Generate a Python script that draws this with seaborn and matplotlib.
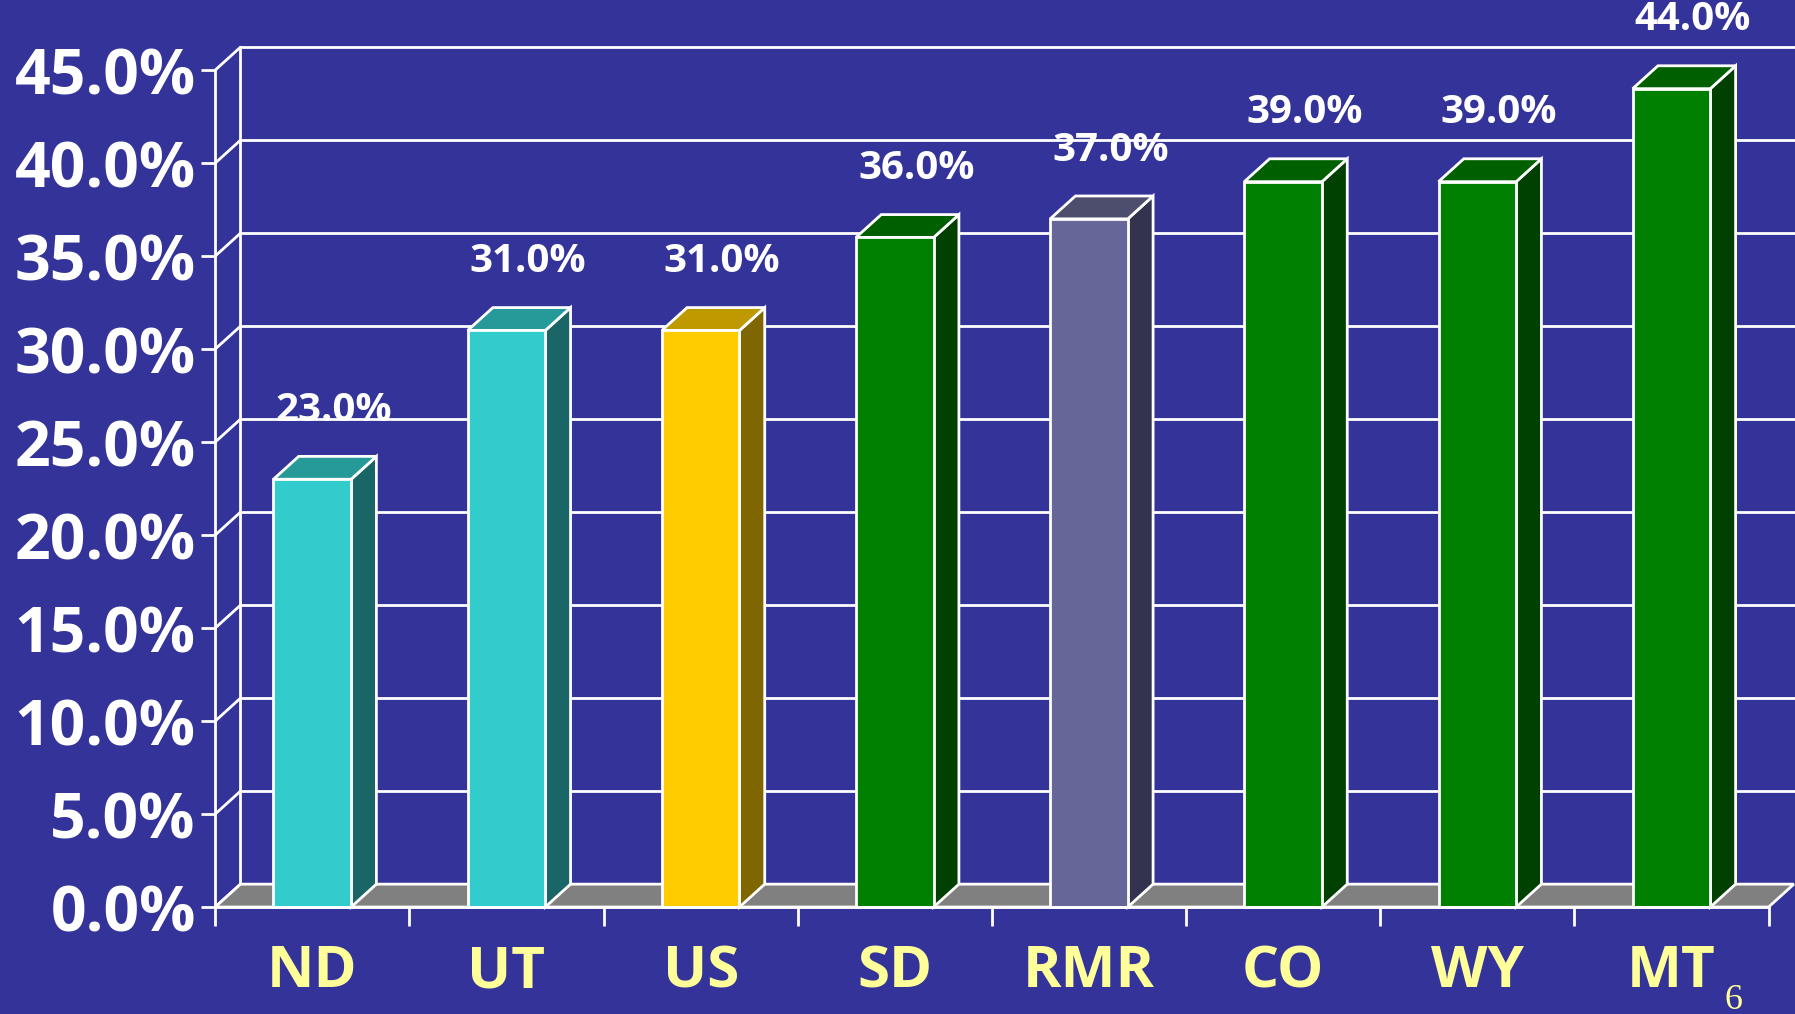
import matplotlib
matplotlib.use("Agg")
import matplotlib.pyplot as plt
from matplotlib.patches import Polygon
from matplotlib import font_manager
import seaborn as sns
import pandas as pd
import numpy as np

# ---- data ----
categories = ["ND", "UT", "US", "SD", "RMR", "CO", "WY", "MT"]
values = [23.0, 31.0, 31.0, 36.0, 37.0, 39.0, 39.0, 44.0]
front_colors = ["#33CCCC", "#33CCCC", "#FFCC00", "#008000", "#666699", "#008000", "#008000", "#008000"]
side_colors = ["#1A6666", "#1A6666", "#806600", "#004000", "#333350", "#004000", "#004000", "#004000"]
top_colors = ["#269999", "#269999", "#BF9900", "#006000", "#4D4D6E", "#006000", "#006000", "#006000"]
y_ticks = [0, 5, 10, 15, 20, 25, 30, 35, 40, 45]
y_tick_labels = ["0.0%", "5.0%", "10.0%", "15.0%", "20.0%", "25.0%", "30.0%", "35.0%", "40.0%", "45.0%"]
value_labels = ["23.0%", "31.0%", "31.0%", "36.0%", "37.0%", "39.0%", "39.0%", "44.0%"]
page_number = "6"

BG = "#333399"
GRID = "white"
FLOOR = "#808080"

sns.set_theme(style="white")
bold_fams = {f.name for f in font_manager.fontManager.ttflist
             if (f.weight if isinstance(f.weight, int) else 400) >= 600 or str(f.weight) == "bold"}
fam = [f for f in ["Noto Sans", "Open Sans", "Liberation Sans", "DejaVu Sans"] if f in bold_fams]
if "DejaVu Sans" not in fam:
    fam.append("DejaVu Sans")
plt.rcParams["font.family"] = fam
plt.rcParams["font.weight"] = "bold"

df = pd.DataFrame({"cat": categories, "val": values})

fig = plt.figure(figsize=(17.95, 10.14), dpi=100, facecolor=BG)
ax = fig.add_axes([0.1199, 0.1055, 0.8654, 0.8254])
ax.set_facecolor(BG)

DX = 0.13   # depth in category units
DY = 1.23   # depth in percent units
x0, x1 = -0.5, len(categories) - 0.5
ymax = 45

# back wall gridlines
for t in y_ticks[1:]:
    ax.plot([x0 + DX, x1 + DX + 0.05], [t + DY, t + DY], color=GRID, lw=2, clip_on=False, zorder=1)
# left wall diagonals
for t in y_ticks:
    ax.plot([x0, x0 + DX], [t, t + DY], color=GRID, lw=2, clip_on=False, zorder=1)
# back-left vertical
ax.plot([x0 + DX, x0 + DX], [DY, ymax + DY], color=GRID, lw=2, clip_on=False, zorder=1)
# floor
floor = Polygon([(x0, 0), (x1, 0), (x1 + DX, DY), (x0 + DX, DY)], closed=True,
                facecolor=FLOOR, edgecolor=GRID, lw=2, clip_on=False, zorder=1.5)
ax.add_patch(floor)

sns.barplot(data=df, x="cat", y="val", hue="cat", palette=front_colors, legend=False,
            width=0.4, edgecolor="white", linewidth=2, saturation=1, ax=ax, zorder=3)

bars = [pp for pp in ax.patches if pp is not floor]
for i, p in enumerate(bars):
    p.set_clip_on(False)
    bx, bw, bh = p.get_x(), p.get_width(), p.get_height()
    side = Polygon([(bx + bw, 0), (bx + bw + DX, DY), (bx + bw + DX, bh + DY), (bx + bw, bh)],
                   closed=True, facecolor=side_colors[i], edgecolor="white", lw=2, zorder=2.5,
                   clip_on=False)
    top = Polygon([(bx, bh), (bx + DX, bh + DY), (bx + bw + DX, bh + DY), (bx + bw, bh)],
                  closed=True, facecolor=top_colors[i], edgecolor="white", lw=2, zorder=2.5,
                  clip_on=False)
    ax.add_patch(side)
    ax.add_patch(top)
    ax.text(bx + bw / 2 + DX * 0.85, bh + 3.7, value_labels[i], ha="center", va="center",
            color="white", fontsize=29, fontweight="bold", zorder=5, clip_on=False)

# front axes lines
ax.plot([x0, x0], [0, ymax], color=GRID, lw=2, clip_on=False, zorder=4)
ax.plot([x0, x1], [0, 0], color=GRID, lw=2, clip_on=False, zorder=4)

ax.set_xlim(x0, x1)
ax.set_ylim(0, ymax)
for s in ax.spines.values():
    s.set_visible(False)

ax.set_yticks(y_ticks)
ax.set_yticklabels(y_tick_labels, fontweight="bold")
ax.tick_params(axis="y", which="both", left=True, length=10, width=2, color="white",
               labelcolor="white", labelsize=45, pad=4)

ax.set_xticks(np.arange(len(categories)))
ax.set_xticklabels(categories, fontweight="bold")
ax.tick_params(axis="x", which="major", bottom=False, labelcolor="#FFFF99", labelsize=42, pad=20)
ax.set_xticks(np.arange(len(categories) + 1) - 0.5, minor=True)
ax.tick_params(axis="x", which="minor", bottom=True, length=14, width=2, color="white")
ax.set_xlabel("")
ax.set_ylabel("")

fig.text(0.966, 0.013, page_number, color="#FFFF99", fontsize=26, fontweight="normal",
         family=["Liberation Serif", "DejaVu Serif"], ha="center", va="center")

fig.savefig("out.png", dpi=100, facecolor=BG)
